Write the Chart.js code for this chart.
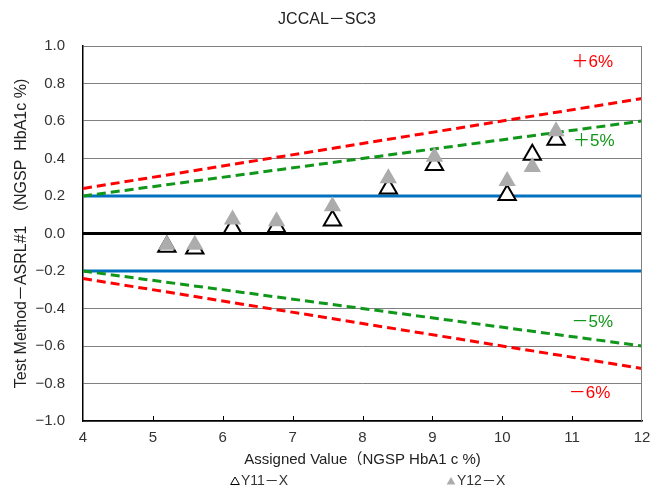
<!DOCTYPE html>
<html>
<head>
<meta charset="utf-8">
<script src="https://cdn.jsdelivr.net/npm/chart.js@4.4.0/dist/chart.umd.min.js"></script>
<style>
    html, body { margin: 0; padding: 0; background: #ffffff; }
    #wrap { width: 654px; height: 492px; }
</style>
</head>
<body>
<div id="wrap"><canvas id="chart"></canvas></div>
<script>
// Дані графіка
const chartTitle = 'JCCAL－SC3';
const xTitle = 'Assigned Value（NGSP HbA1 c %)';
const yTitle = 'Test Method－ASRL#1 （NGSP  HbA1c %)';

const assignedValues = [5.20, 5.60, 6.14, 6.77, 7.57, 8.37, 9.03, 10.07, 10.43, 10.77];
const y11Values = [-0.07, -0.08, 0.03, 0.035, 0.07, 0.24, 0.365, 0.205, 0.42, 0.50];
const y12Values = [-0.06, -0.06, 0.075, 0.065, 0.145, 0.295, 0.41, 0.28, 0.355, 0.545];

const xTicks = [4, 5, 6, 7, 8, 9, 10, 11, 12];
const yTicks = [-1.0, -0.8, -0.6, -0.4, -0.2, 0.0, 0.2, 0.4, 0.6, 0.8, 1.0];

// Межі допуску (значення на краях осі X: 4 і 12)
const limitX = [4, 12];
const plus6 = [0.24, 0.72];
const plus5 = [0.20, 0.60];
const minus5 = [-0.20, -0.60];
const minus6 = [-0.24, -0.72];
const plusFlat = [0.2, 0.2];
const minusFlat = [-0.2, -0.2];
const zeroLine = [0, 0];

const limitLabels = ['＋6%', '＋5%', '－5%', '－6%'];
const legendLabels = ['Y11－X', 'Y12－X'];

const FONT = "'Liberation Sans', 'Noto Sans CJK JP', sans-serif";
const RED = '#ff0000';
const GREEN = '#109618';
const BLUE = '#0070c0';
const GRAY_MARK = '#acacac';

// Пари точок для ліній
function toPoints(xs, ys) {
    return xs.map((x, i) => ({ x: x, y: ys[i] }));
}

function limitLine(label, ys, color, width, dash) {
    return {
        type: 'line',
        label: label,
        data: toPoints(limitX, ys),
        borderColor: color,
        borderWidth: width,
        borderDash: dash,
        pointRadius: 0,
        fill: false,
        order: 2
    };
}

// Підписи меж, легенда, внутрішні мітки осі X
const decorPlugin = {
    id: 'decor',
    afterDraw(chart) {
        const { ctx, chartArea: a, scales: { x, y } } = chart;
        ctx.save();

        // права межа області графіка
        ctx.strokeStyle = '#808080';
        ctx.lineWidth = 1;
        ctx.beginPath();
        ctx.moveTo(a.right - 0.5, a.top);
        ctx.lineTo(a.right - 0.5, a.bottom);
        ctx.stroke();

        // мітки всередину на осі X
        ctx.strokeStyle = '#000';
        ctx.beginPath();
        xTicks.slice(1, -1).forEach(v => {
            const px = Math.round(x.getPixelForValue(v)) + 0.5;
            ctx.moveTo(px, a.bottom);
            ctx.lineTo(px, a.bottom - 5);
        });
        ctx.stroke();

        // заголовок
        ctx.fillStyle = '#222';
        ctx.font = '16px ' + FONT;
        ctx.textAlign = 'center';
        ctx.textBaseline = 'middle';
        ctx.fillText(chartTitle, chart.width / 2, 20);

        // підписи меж допуску
        const labelPos = [[11.29, 0.915, RED], [11.31, 0.493, GREEN], [11.29, -0.472, GREEN], [11.25, -0.85, RED]];
        ctx.font = '17px ' + FONT;
        limitLabels.forEach((t, i) => {
            const [lx, ly, c] = labelPos[i];
            ctx.fillStyle = c;
            ctx.fillText(t, x.getPixelForValue(lx), y.getPixelForValue(ly));
        });

        // легенда
        ctx.font = '14px ' + FONT;
        ctx.textAlign = 'left';
        const legendY = 481;
        const items = [
            { x: 235, fill: '#fff', stroke: '#000', bw: 1 },
            { x: 451, fill: GRAY_MARK, stroke: GRAY_MARK, bw: 0 }
        ];
        items.forEach((it, i) => {
            ctx.fillStyle = it.fill;
            ctx.strokeStyle = it.stroke;
            ctx.lineWidth = it.bw;
            Chart.helpers.drawPoint(ctx, { pointStyle: 'triangle', radius: 5, borderWidth: it.bw, rotation: 0 }, it.x, legendY + 1);
            ctx.fillStyle = '#333';
            ctx.fillText(legendLabels[i], it.x + 6, legendY);
        });

        ctx.restore();
    }
};

const chart = new Chart(document.getElementById('chart'), {
    type: 'scatter',
    data: {
        datasets: [
            limitLine('+6%', plus6, RED, 3, [9, 5]),
            limitLine('+5%', plus5, GREEN, 3, [9, 5]),
            limitLine('-5%', minus5, GREEN, 3, [9, 5]),
            limitLine('-6%', minus6, RED, 3, [9, 5]),
            limitLine('+0.2', plusFlat, BLUE, 3, []),
            limitLine('-0.2', minusFlat, BLUE, 3, []),
            limitLine('0', zeroLine, '#000', 3, []),
            {
                label: legendLabels[0],
                data: toPoints(assignedValues, y11Values),
                pointStyle: 'triangle',
                pointRadius: 10,
                pointHoverRadius: 10,
                backgroundColor: '#ffffff',
                borderColor: '#000000',
                borderWidth: 2,
                order: 1
            },
            {
                label: legendLabels[1],
                data: toPoints(assignedValues, y12Values),
                pointStyle: 'triangle',
                pointRadius: 10,
                pointHoverRadius: 10,
                backgroundColor: GRAY_MARK,
                borderColor: GRAY_MARK,
                borderWidth: 0,
                order: 0
            }
        ]
    },
    options: {
        responsive: true,
        maintainAspectRatio: false,
        animation: false,
        events: [],
        layout: { padding: { top: 46, right: 8, left: 0, bottom: 0 } },
        plugins: {
            legend: { display: false },
            title: { display: false },
            tooltip: { enabled: false }
        },
        scales: {
            x: {
                type: 'linear',
                min: 4,
                max: 12,
                afterBuildTicks: s => { s.ticks = xTicks.map(v => ({ value: v })); },
                afterFit: s => { s.height = 71; s.paddingLeft = 0; s.paddingRight = 0; },
                grid: { display: false, drawTicks: false },
                border: { display: true, color: '#000', width: 1.5 },
                ticks: { font: { family: FONT, size: 15 }, color: '#333', padding: 8, maxRotation: 0, autoSkip: false },
                title: { display: true, text: xTitle, font: { family: FONT, size: 15 }, color: '#222', padding: { top: 0, bottom: 23 } }
            },
            y: {
                type: 'linear',
                min: -1,
                max: 1,
                afterBuildTicks: s => { s.ticks = yTicks.map(v => ({ value: v })); },
                afterFit: s => { s.width = 83; s.paddingTop = 0; s.paddingBottom = 0; },
                grid: { color: '#808080', lineWidth: 1, drawTicks: false },
                border: { display: true, color: '#000', width: 1.5 },
                ticks: {
                    font: { family: FONT, size: 15 },
                    color: '#333',
                    padding: 18,
                    autoSkip: false,
                    callback: v => v.toFixed(1).replace('-', '−')
                },
                title: { display: true, text: yTitle, font: { family: FONT, size: 16 }, color: '#222', padding: { top: 12, bottom: 0 } }
            }
        }
    },
    plugins: [decorPlugin]
});
</script>
</body>
</html>
